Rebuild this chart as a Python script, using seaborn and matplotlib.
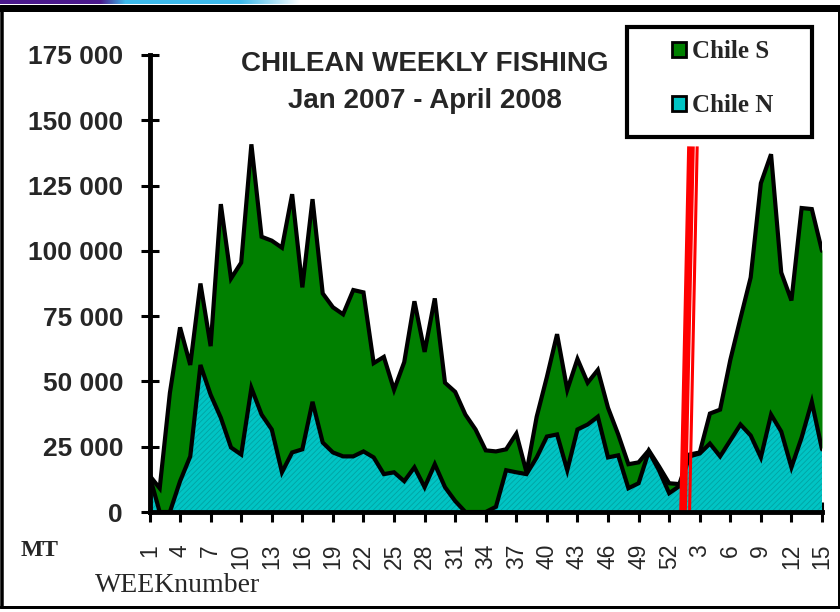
import numpy as np
import matplotlib
matplotlib.use("Agg")
import matplotlib.pyplot as plt
import seaborn as sns
from matplotlib import font_manager
from matplotlib.patches import Patch, Rectangle
from matplotlib.lines import Line2D
from matplotlib.ticker import FuncFormatter

# week numbers: 2007 then 2008
weeks_2007 = list(range(1, 53))
weeks_2008 = list(range(1, 16))

# tonnes per week
chile_n = [14000, 0, 0, 11800, 21300, 56300, 44900, 36100, 24700, 22000,
           47500, 37300, 31600, 15200, 22800, 24000, 42200, 26600, 22800, 21300,
           21300, 23200, 20900, 14500, 15200, 11800, 17100, 9500, 18300, 9500,
           4200, 0, 0, 0, 2000, 16000, 15200, 14500, 20900, 28900,
           29700, 16000, 31600, 33500, 36500, 20900, 21700, 9100, 11000, 23200,
           16000, 7200,
           9900, 21300, 22400, 26200, 21300, 27400, 33500, 29300, 20900, 37300,
           30800, 17100, 28500, 42200, 24000]
chile_s = [0, 9100, 45600, 58900, 35000, 31200, 18600, 81800, 64700, 73500,
           93300, 68100, 72300, 86000, 98900, 62000, 77600, 57100, 55600, 54400,
           63700, 60900, 36100, 44900, 31600, 45600, 63600, 51800, 63500, 40000,
           41800, 37300, 31600, 23600, 21200, 8000, 14800, 700, 15600, 22800,
           38400, 30800, 27000, 16000, 17900, 19000, 8000, 9200, 8000, 400,
           1500, 3800,
           800, 700, 400, 11500, 17900, 30800, 40700, 60500, 105000, 99700,
           60900, 63900, 87900, 73800, 76000]

title_lines = ["CHILEAN WEEKLY FISHING", "Jan 2007 - April 2008"]
series_names = ["Chile S", "Chile N"]

sns.set_style("white")
names = {f.name for f in font_manager.fontManager.ttflist}
narrow = "Liberation Sans Narrow" in names
yfam = "Liberation Sans Narrow" if narrow else "Liberation Sans"
ysize = 23 if narrow else 19
plt.rcParams['font.family'] = ['Liberation Sans', 'DejaVu Sans']
plt.rcParams['hatch.linewidth'] = 0.6

W, H = 840, 612
fig = plt.figure(figsize=(8.4, 6.12), dpi=100)
fig.patch.set_facecolor("white")

# top banner gradient of the slide
gx = np.arange(W)
stops = [0, 100, 125, 240, 300, W]
cols = np.array([[75, 25, 140], [75, 25, 140], [60, 185, 235], [60, 185, 235],
                 [255, 255, 255], [255, 255, 255]]) / 255
grad = np.stack([np.interp(gx, stops, cols[:, c]) for c in range(3)], axis=-1)[None, :, :]
gax = fig.add_axes([0, 1 - 4.5 / H, 1, 4.5 / H])
gax.imshow(grad, aspect="auto")
gax.axis("off")

ax = fig.add_axes([149.5 / W, 1 - 512 / H, (822 - 149.5) / W, (512 - 55) / H])

n = np.array(chile_n)
s = np.array(chile_s)
total = n + s
x = np.arange(len(n))
weeks = weeks_2007 + weeks_2008

ax.fill_between(x, 0, n, facecolor="#00c4c4", edgecolor="#00a3a3", hatch="//////", linewidth=0)
ax.fill_between(x, n, total, facecolor="#008000", linewidth=0)
sns.lineplot(x=x, y=n, color="black", lw=3, ax=ax, solid_joinstyle="miter")
sns.lineplot(x=x, y=total, color="black", lw=3, ax=ax, solid_joinstyle="miter")

# break between 2007 and 2008
ytop = 140000
ax.plot([52.36, 53.14], [0, ytop], color="#ff0000", lw=5.5, solid_capstyle="butt", zorder=4)
ax.plot([53.0, 53.75], [0, ytop], color="#ff0000", lw=2.2, solid_capstyle="butt", zorder=4)

ax.set_xlim(0, len(n) - 1)
ax.set_ylim(0, 175000)
for side in ["top", "right"]:
    ax.spines[side].set_visible(False)
for side in ["left", "bottom"]:
    ax.spines[side].set_linewidth(3.5)
    ax.spines[side].set_color("black")
    ax.spines[side].set_zorder(5)

ax.set_yticks(np.arange(0, 175001, 25000))
ax.yaxis.set_major_formatter(FuncFormatter(lambda v, p: f"{int(v):,}".replace(",", " ")))
ax.set_xticks(x[::3])
ax.set_xticklabels([str(w) for w in weeks[::3]], rotation=90)
ax.tick_params(axis="y", left=True, direction="inout", length=13, width=2.2, pad=12.5,
               labelsize=ysize, color="black")
ax.tick_params(axis="x", bottom=True, direction="inout", length=14, width=2.2, pad=16,
               labelsize=16.5, color="black")
for lab in ax.get_yticklabels():
    lab.set_family(yfam)
    lab.set_fontweight("bold")

fig.text(425 / W, 1 - 71 / H, title_lines[0], ha="center", va="baseline",
         fontsize=20, fontweight="bold")
fig.text(425 / W, 1 - 108 / H, title_lines[1], ha="center", va="baseline",
         fontsize=20, fontweight="bold")

# legend box
fig.add_artist(Rectangle((627 / W, 1 - 137 / H), (812 - 627) / W, 110 / H,
                         transform=fig.transFigure, fill=False, ec="black", lw=3))
handles = [Patch(facecolor="#008000", edgecolor="black", lw=2),
           Patch(facecolor="#00c4c4", edgecolor="black", lw=2)]
fig.legend(handles, series_names, loc="upper left", bbox_to_anchor=(672 / W, 1 - 40 / H),
           frameon=False, prop={"family": "Liberation Serif", "weight": "bold", "size": 18},
           handlelength=0.55, handleheight=0.55, handletextpad=0.25,
           labelspacing=1.25, borderpad=0, borderaxespad=0)

fig.text(40 / W, 1 - 551 / H, "MT", ha="center", va="center",
         family="Liberation Serif", fontweight="bold", fontsize=17)
fig.text(95 / W, 1 - 585 / H, "WEEKnumber", ha="left", va="center",
         family="Liberation Serif", fontsize=20)

# slide frame
frame = [([1.5, 1.5], [8, 607], 3.5), ([0, W], [7.5, 7.5], 7), ([0, W], [607, 607], 3),
         ([838.5, 838.5], [8, 607], 3)]
for xs, ys, lw in frame:
    fig.add_artist(Line2D([v / W for v in xs], [1 - v / H for v in ys],
                          transform=fig.transFigure, color="black", lw=lw * 0.72))

fig.savefig("out.png", dpi=100)
